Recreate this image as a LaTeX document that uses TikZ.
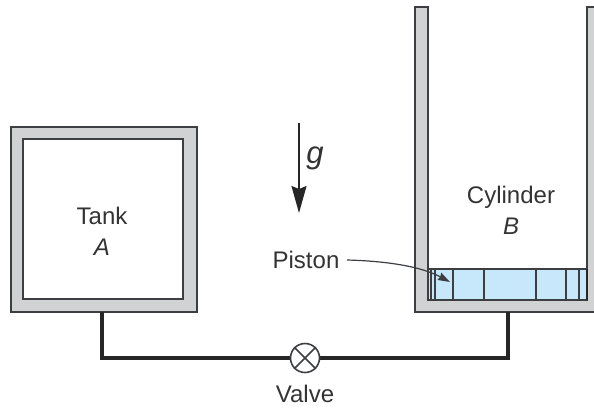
\documentclass[tikz,border=0pt]{standalone}
\usepackage{fontspec}
\setmainfont{Liberation Sans}
\usepackage{xcolor}
\usetikzlibrary{arrows.meta}
\usetikzlibrary{shapes.misc}
\definecolor{qwall}{RGB}{208,210,211}
\definecolor{qline}{RGB}{60,62,66}
\definecolor{qwater}{RGB}{198,232,250}
\tikzset{
wall/.style={draw=qline, line width=1.6pt, fill=qwall},
pipe/.style={draw=black!85, line width=3.6pt},
rib/.style={draw=qline, line width=1.6pt},
lbl/.style={font=\fontsize{24}{30}\selectfont, text=black!80, align=center, inner sep=0pt}
}
\begin{document}
\begin{tikzpicture}[x=1pt,y=-1pt]
\useasboundingbox (0,0) rectangle (594,407);

% tank
\draw[wall] (11,127) rectangle (197,312);
\draw[draw=qline, line width=1.6pt, fill=white] (23,139) rectangle (183,299);
\node[lbl] (tank) at (102,216) {Tank};
\node[lbl] (tanka) at (102,247) {\textit{A}};

% cylinder
\draw[wall] (415,7) -- (428,7) -- (428,300) -- (587,300) -- (587,7) -- (597,7) -- (597,312) -- (415,312) -- cycle;
\node[lbl] (cyl) at (511,197) {Cylinder};
\node[lbl] (cylb) at (511,226) {\textit{B}};

% piston
\draw[draw=qline, line width=1.6pt, fill=qwater] (428,269) rectangle (587,300);
\foreach \x in {431,435,453,484,536,566,579}
  \draw[rib] (\x,269) -- (\x,300);
\draw[draw=black!85, line width=2.4pt] (587,269) -- (587,300);

% pipe and valve
\coordinate (tankout) at (102,312);
\coordinate (cylout) at (508,312);
\node[circle, minimum size=29pt, inner sep=0pt] (valve) at (305,358) {};
\draw[pipe] (tankout) |- (valve);
\draw[pipe] (cylout) |- (valve);
\node[circle, draw=qline, line width=1.6pt, minimum size=29pt, inner sep=0pt] (valvering) at (305,358) {};
\node[cross out, draw=qline, line width=1.6pt, minimum size=20pt, inner sep=0pt] (valvex) at (305,358) {};
\node[lbl] (valvelbl) at (305,394) {Valve};

% gravity
\coordinate (gtop) at (299,123);
\coordinate (gend) at (299,213);
\draw[line width=1.6pt, draw=black!85, -{Stealth[length=27pt,width=15pt,inset=3pt]}] (gtop) -- (gend);
\node[font=\fontsize{31}{36}\selectfont\itshape, text=black!80, inner sep=0pt] (glbl) at (315,158) {g};

% piston label
\node[lbl] (pistonlbl) at (306,260) {Piston};
\coordinate (pistontip) at (450,282);
\draw[line width=1.2pt, draw=qline, -{Stealth[length=12pt,width=8pt,inset=1pt]}] (347,260) .. controls (385,261) and (420,266) .. (pistontip);

\end{tikzpicture}
\end{document}
